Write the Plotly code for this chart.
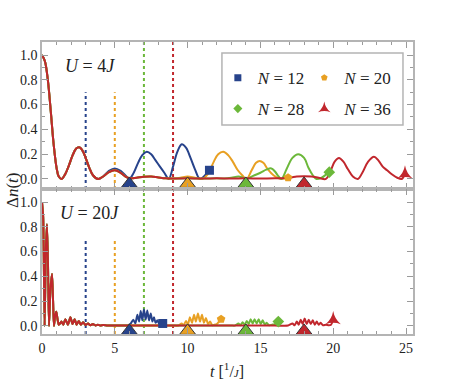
import plotly.graph_objects as go
from plotly.subplots import make_subplots

# ---- U = 4J (panel superior) ----
# tramo inicial comun a todos los N
t_comun_u4 = [0, 0.2, 0.4, 0.6, 0.8, 1.0, 1.15, 1.35, 1.6, 1.85, 2.1, 2.35, 2.55, 2.75, 3.0, 3.25, 3.5, 3.85, 4.2]
dn_comun_u4 = [1.0, 0.95, 0.8, 0.55, 0.28, 0.09, 0.02, 0.0, 0.04, 0.11, 0.19, 0.245, 0.255, 0.235, 0.17, 0.09, 0.03, 0.0, 0.02]

t_12_u4 = [4.6, 5.0, 5.4, 5.8, 6.0, 6.3, 6.6, 6.9, 7.2, 7.5, 7.8, 8.1, 8.4, 8.7, 9.0, 9.3, 9.6, 9.9, 10.2, 10.5, 10.85, 11.2, 11.5]
dn_12_u4 = [0.065, 0.085, 0.065, 0.02, 0.0, 0.05, 0.13, 0.195, 0.22, 0.2, 0.15, 0.1, 0.05, 0.0, 0.1, 0.22, 0.28, 0.25, 0.17, 0.08, 0.0, 0.03, 0.07]

t_20_u4 = [4.6, 5.0, 5.4, 5.8, 6.1, 6.5, 7.0, 7.5, 8.0, 8.5, 9.0, 9.5, 10.0, 10.5, 11.0, 11.4, 11.8, 12.1, 12.45, 12.8, 13.1, 13.45, 13.75, 14.05, 14.4, 14.7, 14.95, 15.2, 15.5, 15.9, 16.3, 16.6, 16.9]
dn_20_u4 = [0.055, 0.07, 0.05, 0.015, 0.005, 0.01, 0.018, 0.02, 0.012, 0.005, 0.003, 0.01, 0.02, 0.01, 0.0, 0.04, 0.14, 0.2, 0.22, 0.19, 0.14, 0.07, 0.03, 0.0, 0.07, 0.13, 0.145, 0.13, 0.08, 0.03, 0.003, 0.003, 0.01]

t_28_u4 = [4.6, 5.0, 5.4, 5.8, 6.1, 6.5, 7.0, 7.5, 8.0, 8.5, 9.0, 10.0, 11.0, 12.0, 12.5, 13.0, 13.5, 13.8, 14.05, 14.5, 15.0, 15.4, 15.75, 16.0, 16.25, 16.45, 16.8, 17.2, 17.6, 18.0, 18.3, 18.6, 18.85, 19.2, 19.5, 19.73]
dn_28_u4 = [0.055, 0.07, 0.05, 0.015, 0.005, 0.01, 0.018, 0.02, 0.012, 0.005, 0.003, 0.005, 0.003, 0.005, 0.004, 0.01, 0.02, 0.01, 0.0, 0.025, 0.05, 0.075, 0.085, 0.06, 0.02, 0.0, 0.08, 0.17, 0.2, 0.17, 0.09, 0.03, 0.0, 0.01, 0.035, 0.055]

t_36_u4 = [4.6, 5.0, 5.4, 5.8, 6.1, 6.5, 7.0, 7.5, 8.0, 8.5, 9.0, 10.0, 11.0, 12.0, 13.0, 14.0, 15.0, 16.0, 17.0, 17.5, 18.0, 18.5, 19.0, 19.5, 19.8, 20.1, 20.4, 20.7, 21.0, 21.35, 21.7, 22.0, 22.4, 22.8, 23.1, 23.4, 23.7, 24.0, 24.4, 24.7, 24.93]
dn_36_u4 = [0.055, 0.07, 0.05, 0.015, 0.005, 0.01, 0.018, 0.02, 0.012, 0.005, 0.003, 0.005, 0.003, 0.005, 0.004, 0.005, 0.003, 0.005, 0.01, 0.02, 0.022, 0.02, 0.01, 0.0, 0.06, 0.14, 0.17, 0.14, 0.08, 0.02, 0.0, 0.05, 0.14, 0.18, 0.15, 0.1, 0.07, 0.04, 0.01, 0.0, 0.04]

# ---- U = 20J (panel inferior) ----
t_comun_u20 = [0, 0.08, 0.18, 0.26, 0.34, 0.41, 0.48, 0.58, 0.69, 0.76, 0.82, 0.9, 0.98, 1.06, 1.15, 1.24, 1.33, 1.46, 1.6, 1.78, 1.95, 2.1, 2.24, 2.38, 2.52, 2.67, 2.82, 2.99, 3.16, 3.33, 3.5, 3.67, 3.84, 4.0, 4.2, 4.5, 5.0]
dn_comun_u20 = [1.0, 0.88, 0.0, 0.6, 0.82, 0.5, 0.0, 0.3, 0.42, 0.2, 0.0, 0.08, 0.115, 0.06, 0.01, 0.02, 0.035, 0.01, 0.055, 0.01, 0.07, 0.015, 0.055, 0.01, 0.04, 0.01, 0.03, 0.008, 0.02, 0.005, 0.015, 0.004, 0.01, 0.003, 0.008, 0.003, 0.004]

t_12_u20 = [5.5, 5.93, 6.1, 6.27, 6.41, 6.55, 6.67, 6.78, 6.89, 7.0, 7.12, 7.23, 7.35, 7.47, 7.58, 7.69, 7.8, 7.92, 8.05, 8.15, 8.29]
dn_12_u20 = [0.003, 0.005, 0.02, 0.05, 0.02, 0.09, 0.035, 0.12, 0.045, 0.135, 0.05, 0.125, 0.045, 0.1, 0.035, 0.07, 0.025, 0.045, 0.015, 0.015, 0.02]

t_20_u20 = [6.0, 8.0, 9.0, 9.36, 9.59, 9.72, 9.89, 10.02, 10.16, 10.3, 10.44, 10.57, 10.71, 10.85, 10.99, 11.12, 11.26, 11.4, 11.54, 11.7, 11.85, 12.0, 12.3]
dn_20_u20 = [0.003, 0.003, 0.003, 0.003, 0.02, 0.005, 0.04, 0.012, 0.07, 0.025, 0.09, 0.035, 0.1, 0.035, 0.09, 0.025, 0.065, 0.015, 0.035, 0.005, 0.01, 0.015, 0.055]

t_28_u20 = [6.0, 8.0, 10.0, 12.0, 13.0, 13.26, 13.49, 13.63, 13.78, 13.92, 14.06, 14.2, 14.33, 14.47, 14.6, 14.74, 14.88, 15.02, 15.16, 15.3, 15.43, 15.6, 15.8, 16.0, 16.23]
dn_28_u20 = [0.003, 0.003, 0.003, 0.003, 0.003, 0.003, 0.02, 0.005, 0.03, 0.01, 0.04, 0.015, 0.055, 0.02, 0.055, 0.02, 0.055, 0.015, 0.045, 0.01, 0.025, 0.005, 0.01, 0.015, 0.035]

t_36_u20 = [6.0, 8.0, 10.0, 12.0, 14.0, 16.0, 16.9, 17.2, 17.35, 17.5, 17.63, 17.77, 17.9, 18.04, 18.18, 18.32, 18.46, 18.6, 18.73, 18.87, 19.0, 19.14, 19.3, 19.5, 19.7, 19.85, 20.0]
dn_36_u20 = [0.003, 0.003, 0.003, 0.003, 0.003, 0.003, 0.003, 0.02, 0.005, 0.035, 0.01, 0.05, 0.015, 0.06, 0.015, 0.05, 0.015, 0.045, 0.01, 0.035, 0.01, 0.025, 0.005, 0.01, 0.005, 0.01, 0.05]

N_vals = [12, 20, 28, 36]
colores = ["#27438b", "#e8a023", "#6cb83a", "#c1272d"]
simbolos = ["square", "pentagon", "diamond", "star-triangle-up"]
t_llegada = [6, 10, 14, 18]     # triangulos sobre el eje
t_cono = [3, 5, 7, 9]           # lineas punteadas
alto_cono = [0.7, 0.7, None, None]

rango_x = [0, 25.48]
rango_y4 = [-0.081, 1.105]
rango_y20 = [-0.065, 1.105]

curvas_u4 = [(t_12_u4, dn_12_u4), (t_20_u4, dn_20_u4), (t_28_u4, dn_28_u4), (t_36_u4, dn_36_u4)]
curvas_u20 = [(t_12_u20, dn_12_u20), (t_20_u20, dn_20_u20), (t_28_u20, dn_28_u20), (t_36_u20, dn_36_u20)]

fig = make_subplots(rows=2, cols=1, shared_xaxes=True, vertical_spacing=0, row_heights=[147, 145])

for fila, rango_y in [(1, rango_y4), (2, rango_y20)]:
    fig.add_hline(y=0, line=dict(color="#555555", width=1, dash="dash"), layer="below", row=fila, col=1)
    for tc, col, alto in zip(t_cono, colores, alto_cono):
        fig.add_trace(go.Scatter(x=[tc, tc], y=[rango_y[0], alto if alto else rango_y[1]], mode="lines",
                                 line=dict(color=col, width=2, dash="dot"), showlegend=False,
                                 hoverinfo="skip"), row=fila, col=1)

for fila, comun_t, comun_dn, curvas, suav in [(1, t_comun_u4, dn_comun_u4, curvas_u4, 1.0),
                                              (2, t_comun_u20, dn_comun_u20, curvas_u20, 0.6)]:
    for i, (tt, dd) in enumerate(curvas):
        fig.add_trace(go.Scatter(x=comun_t + tt, y=comun_dn + dd, mode="lines",
                                 line=dict(color=colores[i], width=2, shape="spline", smoothing=suav),
                                 showlegend=False), row=fila, col=1)
    for i, (tt, dd) in enumerate(curvas):
        fig.add_trace(go.Scatter(x=[tt[-1]], y=[dd[-1]], mode="markers",
                                 marker=dict(symbol=simbolos[i], color=colores[i], size=9 if i < 3 else 11),
                                 cliponaxis=False, showlegend=False), row=fila, col=1)
    fig.add_trace(go.Scatter(x=t_llegada, y=[-0.04] * 4, mode="markers", cliponaxis=False,
                             marker=dict(symbol="triangle-up", size=14, color=colores,
                                         line=dict(color="#333333", width=1)),
                             showlegend=False), row=fila, col=1)

# una leyenda por entrada (2 x 2)
nombres_ley = ["legend", "legend2", "legend3", "legend4"]
for i in range(4):
    fig.add_trace(go.Scatter(x=[None], y=[None], mode="markers",
                             marker=dict(symbol=simbolos[i], color=colores[i], size=7 if i < 3 else 9),
                             name="<i>N</i> = %d" % N_vals[i], legend=nombres_ley[i]), row=1, col=1)

fuente = "Liberation Serif"
eje = dict(showline=True, linecolor="#b4b4b4", linewidth=1.5, mirror="allticks", ticks="inside",
           tickcolor="#9a9a9a", ticklen=6, tickwidth=1, showgrid=False, zeroline=False,
           automargin=False, tickfont=dict(family=fuente, size=14, color="#222222"),
           minor=dict(ticks="inside", ticklen=3, tickcolor="#9a9a9a"))

fig.update_xaxes(**eje, range=rango_x, tick0=0, dtick=5)
fig.update_xaxes(minor_dtick=1)
fig.update_xaxes(showticklabels=False, row=1, col=1)
fig.update_yaxes(**eje, tick0=0, dtick=0.2, tickformat=".1f")
fig.update_yaxes(minor_dtick=0.1)
fig.update_yaxes(range=rango_y4, row=1, col=1)
fig.update_yaxes(range=rango_y20, row=2, col=1)

fig.add_shape(type="rect", xref="paper", yref="paper", x0=0.485, x1=0.973, y0=0.716, y1=0.962,
              line=dict(color="#b4b4b4", width=1.5), fillcolor="white", layer="above")

ley = dict(xanchor="left", yanchor="top", font=dict(family=fuente, size=17, color="#222222"),
           bgcolor="rgba(0,0,0,0)", itemsizing="trace", borderwidth=0)

fig.update_layout(
    width=457, height=379,
    margin=dict(l=42, r=44, t=42, b=45, autoexpand=False),
    plot_bgcolor="white", paper_bgcolor="white",
    font=dict(family=fuente, color="#222222"),
    legend=dict(ley, x=0.474, y=0.938),
    legend2=dict(ley, x=0.707, y=0.938),
    legend3=dict(ley, x=0.474, y=0.832),
    legend4=dict(ley, x=0.707, y=0.832),
    annotations=[
        dict(text="<i>U</i> = 4<i>J</i>", x=0.129, y=0.918, xref="paper", yref="paper",
             xanchor="center", yanchor="middle", showarrow=False, font=dict(size=18)),
        dict(text="<i>U</i> = 20<i>J</i>", x=0.129, y=0.414, xref="paper", yref="paper",
             xanchor="center", yanchor="middle", showarrow=False, font=dict(size=18)),
        dict(text="Δ<i>n</i>(<i>t</i>)", x=-0.081, y=0.493, xref="paper", yref="paper",
             xanchor="center", yanchor="middle", showarrow=False, textangle=-90, font=dict(size=17)),
        dict(text="<i>t</i> [<sup>1</sup>/<span style='font-size:11px'><i>J</i></span>]",
             x=0.499, y=-0.123, xref="paper", yref="paper", xanchor="center", yanchor="middle",
             showarrow=False, font=dict(size=16)),
    ],
)

# quitar el margen por defecto del body para que la figura ocupe toda la ventana
fig.write_html("out.html", config={"displayModeBar": False},
               post_script="document.body.style.margin='0';")
